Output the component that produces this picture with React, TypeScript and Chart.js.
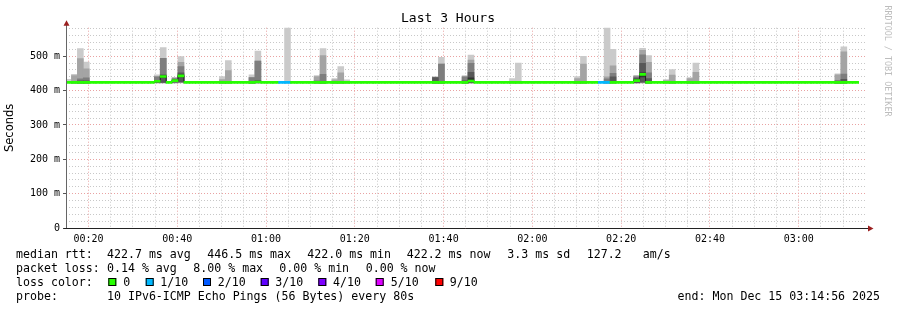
import React, { useEffect, useRef } from 'react';
import { Chart, registerables } from 'chart.js';

Chart.register(...registerables);

// ---------- texts ----------
const chartTitle = 'Last 3 Hours';
const yAxisTitle = 'Seconds';
const watermark = 'RRDTOOL / TOBI OETIKER';

// ---------- time axis (minutes since 00:14:56) ----------
const startMinuteOfDay = 14 + 56 / 60;
const spanMinutes = 180;
const stepMinutes = 80 / 60;
const firstStepStart = -0.1;
const stepCount = 134;
const xTickLabels = ['00:20', '00:40', '01:00', '01:20', '01:40', '02:00', '02:20', '02:40', '03:00'];
const xGridEveryMinutes = 5;

// ---------- value axis (ms) ----------
const yMaxMs = 583;
const yTickValues = [0, 100, 200, 300, 400, 500];
const yTickLabels = ['0', '100 m', '200 m', '300 m', '400 m', '500 m'];
const yGridEveryMs = 20;

// ---------- median rtt per 80 s step ----------
const baseMedian = 424;
const medianSteps = [15, 16, 18, 19, 32, 68, 96, 97];
const medianValues = [427, 441, 429, 443, 425, 428, 429, 447];

// ---------- packet loss per step (lost pings out of 10) ----------
const lossSteps = [36, 37, 90, 91];
const lossValues = [1, 1, 1, 1];

// ---------- smoke: sorted ping rtts (ms) of steps with spread ----------
const smokeSteps = [0, 1, 2, 3, 15, 16, 18, 19, 26, 27, 31, 32, 37, 42, 43, 45, 46, 47, 62, 63, 67, 68, 75, 76, 86, 87, 91, 92, 96, 97, 98, 101, 102, 105, 106, 130, 131];
const smokePings = [
  [422, 422, 422, 422, 422, 422, 422, 422, 422, 433],
  [422, 422, 422, 422, 422, 422, 423, 424, 444, 447],
  [422, 422, 422, 422, 422, 424, 428, 434, 493, 522],
  [422, 422, 422, 422, 422, 424, 428, 437, 463, 483],
  [422, 422, 423, 424, 426, 428, 430, 440, 441, 446],
  [422, 422, 423, 424, 438, 444, 446, 494, 494, 525],
  [422, 422, 423, 425, 428, 430, 432, 435, 437, 438],
  [422, 423, 424, 426, 440, 446, 452, 470, 482, 499],
  [422, 422, 422, 422, 422, 422, 423, 425, 432, 441],
  [422, 422, 422, 422, 422, 422, 423, 424, 458, 487],
  [422, 422, 422, 422, 422, 423, 425, 438, 438, 446],
  [422, 422, 422, 423, 424, 426, 429, 486, 486, 515],
  [422, 422, 422, 422, 422, 422, 422, 422, 424, 600],
  [422, 422, 422, 422, 422, 422, 423, 428, 441, 444],
  [422, 422, 422, 422, 422, 423, 425, 447, 502, 522],
  [422, 422, 422, 422, 422, 422, 423, 425, 431, 435],
  [422, 422, 422, 422, 422, 422, 423, 424, 452, 470],
  [422, 422, 422, 422, 422, 422, 422, 423, 425, 431],
  [422, 422, 422, 422, 422, 423, 438, 438, 439, 440],
  [422, 422, 422, 422, 422, 423, 426, 477, 477, 497],
  [422, 422, 422, 422, 422, 423, 428, 440, 441, 444],
  [422, 422, 422, 423, 429, 437, 453, 479, 489, 503],
  [422, 422, 422, 422, 422, 422, 422, 423, 425, 435],
  [422, 422, 422, 422, 422, 422, 422, 423, 424, 480],
  [422, 422, 422, 422, 422, 422, 423, 425, 435, 441],
  [422, 422, 422, 422, 422, 422, 423, 424, 477, 500],
  [422, 422, 422, 422, 422, 422, 424, 434, 440, 600],
  [422, 422, 422, 422, 423, 425, 440, 450, 472, 520],
  [422, 422, 422, 423, 426, 432, 436, 440, 443, 444],
  [422, 422, 423, 425, 440, 452, 479, 504, 517, 523],
  [422, 422, 422, 422, 422, 424, 435, 452, 482, 502],
  [422, 422, 422, 422, 422, 422, 422, 423, 429, 432],
  [422, 422, 422, 422, 422, 422, 423, 424, 445, 461],
  [422, 422, 422, 422, 422, 422, 423, 425, 435, 438],
  [422, 422, 422, 422, 422, 422, 423, 424, 453, 480],
  [422, 422, 422, 422, 422, 423, 425, 430, 446, 449],
  [422, 422, 422, 422, 422, 424, 433, 448, 513, 527],
];

// ---------- legend ----------
const rttLabel = 'median rtt:';
const rttStats = ['422.7 ms avg', '446.5 ms max', '422.0 ms min', '422.2 ms now', '3.3 ms sd', '127.2', 'am/s'];
const lossLabel = 'packet loss:';
const lossStats = ['0.14 % avg', '8.00 % max', '0.00 % min', '0.00 % now'];
const lossColorLabel = 'loss color:';
const lossLabels = ['0', '1/10', '2/10', '3/10', '4/10', '5/10', '9/10'];
const lossColors = ['#26ff00', '#00b8ff', '#0059ff', '#5e00ff', '#7e00ff', '#dd00ff', '#ff0000'];
const probeLabel = 'probe:';
const probeText = '10 IPv6-ICMP Echo Pings (56 Bytes) every 80s';
const endText = 'end: Mon Dec 15 03:14:56 2025';

// ---------- styles / layout ----------
const smokeShades = ['#cacaca', '#a4a4a4', '#7e7e7e', '#585858', '#323232'];
const medianBandHalf = 2.9;
const gridGray = '#c8c8c8';
const gridRed = '#e9a2a2';
const mono = '"DejaVu Sans Mono", monospace';
const rttX = [107, 207.3, 307.3, 406.7, 507.3, 586.7, 642.7];
const lossX = [107, 193.3, 279.3, 365.7];
const swatchX = [108.3, 145.7, 203, 260.7, 318.3, 375.7, 435.3];
const swatchLabelX = [123.3, 160.3, 217.7, 275.3, 333, 390.7, 449.7];
const legendBaselines = [258, 272, 286, 300];

const clockToT = (s: string) => {
  const [h, m] = s.split(':').map(Number);
  return h * 60 + m - startMinuteOfDay;
};
const stepStart = (k: number) => firstStepStart + k * stepMinutes;
const stepCenter = (k: number) => stepStart(k) + stepMinutes / 2;

const majorXT = xTickLabels.map(clockToT);
const xGridValues: number[] = [];
for (let m = Math.ceil(startMinuteOfDay / xGridEveryMinutes) * xGridEveryMinutes; m - startMinuteOfDay <= spanMinutes; m += xGridEveryMinutes) {
  xGridValues.push(m - startMinuteOfDay);
}
const xLabelFor = (v: number) => {
  const i = majorXT.findIndex((t) => Math.abs(t - v) < 1e-6);
  return i >= 0 ? xTickLabels[i] : '';
};
const yGridValues: number[] = [];
for (let v = 0; v <= yMaxMs; v += yGridEveryMs) yGridValues.push(v);
const yLabelFor = (v: number) => {
  const i = yTickValues.indexOf(v);
  return i >= 0 ? yTickLabels[i] : '';
};
const tickVal = (c: any) => (c && c.tick ? c.tick.value : NaN);

const medians = Array.from({ length: stepCount }, (_, k) => {
  const i = medianSteps.indexOf(k);
  return i >= 0 ? medianValues[i] : baseMedian;
});
const losses = Array.from({ length: stepCount }, (_, k) => {
  const i = lossSteps.indexOf(k);
  return i >= 0 ? lossValues[i] : 0;
});

const decorPlugin = {
  id: 'rrdDecor',
  afterDraw(chart: any) {
    const { ctx, chartArea: a } = chart;
    const ax = Math.round(a.left) + 0.5;
    const ay = Math.round(a.bottom) + 0.5;
    ctx.save();
    // axes
    ctx.lineWidth = 1;
    ctx.strokeStyle = '#666666';
    ctx.beginPath();
    ctx.moveTo(ax, ay);
    ctx.lineTo(ax, a.top - 5);
    ctx.stroke();
    ctx.strokeStyle = '#222222';
    ctx.beginPath();
    ctx.moveTo(ax - 3, ay);
    ctx.lineTo(a.right + 3, ay);
    ctx.stroke();
    // arrows
    ctx.fillStyle = '#9b2020';
    ctx.beginPath();
    ctx.moveTo(ax, a.top - 7.5);
    ctx.lineTo(ax - 3, a.top - 2);
    ctx.lineTo(ax + 3, a.top - 2);
    ctx.closePath();
    ctx.fill();
    ctx.beginPath();
    ctx.moveTo(a.right + 8.5, ay);
    ctx.lineTo(a.right + 3, ay - 3);
    ctx.lineTo(a.right + 3, ay + 3);
    ctx.closePath();
    ctx.fill();

    // title
    ctx.fillStyle = '#000';
    ctx.font = `13px ${mono}`;
    ctx.textAlign = 'center';
    ctx.textBaseline = 'middle';
    ctx.fillText(chartTitle, 448, 19);

    // y axis title
    ctx.save();
    ctx.translate(10.5, (a.top + a.bottom) / 2);
    ctx.rotate(-Math.PI / 2);
    ctx.font = '11.5px "DejaVu Sans", sans-serif';
    ctx.fillText(yAxisTitle, 0, 0);
    ctx.restore();

    // watermark
    ctx.save();
    ctx.translate(887, 61);
    ctx.rotate(Math.PI / 2);
    ctx.font = `8.4px ${mono}`;
    ctx.fillStyle = '#bdbdbd';
    ctx.fillText(watermark, 0, 0);
    ctx.restore();

    // legend
    ctx.font = `11.6px ${mono}`;
    ctx.textAlign = 'left';
    ctx.textBaseline = 'alphabetic';
    ctx.fillStyle = '#000';
    ctx.fillText(rttLabel, 16, legendBaselines[0]);
    rttStats.forEach((s, i) => ctx.fillText(s, rttX[i], legendBaselines[0]));
    ctx.fillText(lossLabel, 16, legendBaselines[1]);
    lossStats.forEach((s, i) => ctx.fillText(s, lossX[i], legendBaselines[1]));
    ctx.fillText(lossColorLabel, 16, legendBaselines[2]);
    lossLabels.forEach((s, i) => {
      ctx.fillStyle = lossColors[i];
      ctx.fillRect(swatchX[i], legendBaselines[2] - 8, 8, 8);
      ctx.strokeStyle = '#000';
      ctx.strokeRect(swatchX[i] + 0.5, legendBaselines[2] - 7.5, 7, 7);
      ctx.fillStyle = '#000';
      ctx.fillText(s, swatchLabelX[i], legendBaselines[2]);
    });
    ctx.fillText(probeLabel, 16, legendBaselines[3]);
    ctx.fillText(probeText, 107, legendBaselines[3]);
    ctx.textAlign = 'right';
    ctx.fillText(endText, 880, legendBaselines[3]);
    ctx.restore();
  },
};

export default function App() {
  const ref = useRef<HTMLCanvasElement | null>(null);

  useEffect(() => {
    if (!ref.current) return;

    const smokeDatasets = smokeShades.map((shade, s) => ({
      type: 'bar' as const,
      order: 10 - s,
      grouped: false,
      barPercentage: 1,
      categoryPercentage: 1,
      borderWidth: 0,
      backgroundColor: shade,
      data: smokeSteps
        .map((k, i) => ({ x: stepCenter(k), y: [smokePings[i][s], smokePings[i][9 - s]] }))
        .filter((d) => d.y[1] - d.y[0] > 0),
    }));

    const medianLine = {
      type: 'line' as const,
      order: 2,
      data: [
        ...medians.map((m, k) => ({ x: stepStart(k), y: m })),
        { x: stepStart(stepCount), y: medians[stepCount - 1] },
      ],
      borderColor: '#202020',
      borderWidth: 1,
      pointRadius: 0,
      stepped: 'before' as const,
      fill: false,
    };

    const medianBand = {
      type: 'bar' as const,
      order: 1,
      grouped: false,
      barPercentage: 1,
      categoryPercentage: 1,
      borderWidth: 0,
      backgroundColor: losses.map((l) => lossColors[l]),
      data: medians.map((m, k) => ({ x: stepCenter(k), y: [m - medianBandHalf, m + medianBandHalf] })),
    };

    const chart = new Chart(ref.current, {
      type: 'bar',
      data: { datasets: [...smokeDatasets, medianLine, medianBand] as any },
      options: {
        animation: false,
        responsive: false,
        devicePixelRatio: 1,
        events: [],
        layout: { padding: { left: 0, top: 27.7, right: 32, bottom: 62 } },
        plugins: { legend: { display: false }, tooltip: { enabled: false }, title: { display: false } },
        scales: {
          x: {
            type: 'linear',
            offset: false,
            min: 0,
            max: spanMinutes,
            afterFit: (s: any) => {
              s.height = 20;
            },
            afterBuildTicks: (s: any) => {
              s.ticks = xGridValues.map((v) => ({ value: v }));
            },
            ticks: {
              autoSkip: false,
              maxRotation: 0,
              padding: 5,
              color: '#000',
              font: { family: mono, size: 10 },
              callback: (v: any) => xLabelFor(Number(v)),
            },
            grid: {
              offset: false,
              drawTicks: false,
              lineWidth: 1,
              color: (c: any) => (xLabelFor(tickVal(c)) ? gridRed : gridGray),
            },
            border: { display: false, dash: [1, 2] },
          },
          y: {
            type: 'linear',
            offset: false,
            min: 0,
            max: yMaxMs,
            afterFit: (s: any) => {
              s.width = 66;
            },
            afterBuildTicks: (s: any) => {
              s.ticks = yGridValues.map((v) => ({ value: v }));
            },
            ticks: {
              autoSkip: false,
              padding: 3,
              color: '#000',
              font: { family: mono, size: 10 },
              callback: (v: any) => yLabelFor(Number(v)),
            },
            grid: {
              offset: false,
              drawTicks: true,
              tickLength: 3,
              lineWidth: 1,
              color: (c: any) => (tickVal(c) % 100 === 0 ? gridRed : gridGray),
              tickColor: (c: any) => (tickVal(c) % 100 === 0 ? '#555' : 'rgba(0,0,0,0)'),
            },
            border: { display: false, dash: [1, 2] },
          },
        },
      },
      plugins: [decorPlugin],
    });

    return () => chart.destroy();
  }, []);

  return (
    <div style={{ position: 'fixed', left: 0, top: 0, width: 897, height: 310, background: '#fff' }}>
      <canvas ref={ref} width={897} height={310} style={{ display: 'block' }} />
    </div>
  );
}
